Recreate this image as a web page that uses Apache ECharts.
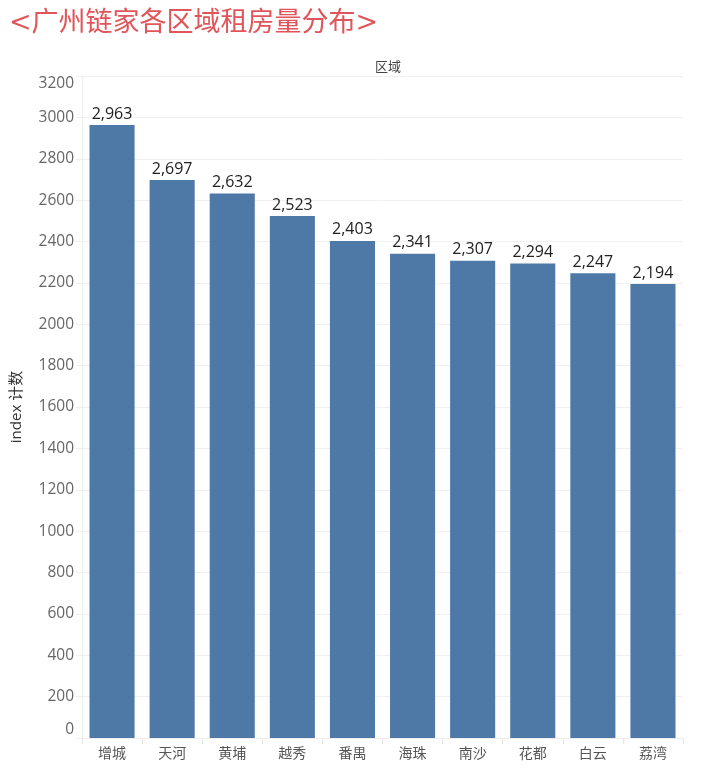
<!DOCTYPE html>
<html><head><meta charset="utf-8">
<script src="https://cdn.jsdelivr.net/npm/echarts@6/dist/echarts.min.js"></script>
<style>html,body{margin:0;padding:0;background:#fff}#c{width:717px;height:770px}</style>
</head><body><div id="c"></div>
<script>
const categories = ['增城','天河','黄埔','越秀','番禺','海珠','南沙','花都','白云','荔湾'];
const counts = [2963,2697,2632,2523,2403,2341,2307,2294,2247,2194];
const yTicks = [0,200,400,600,800,1000,1200,1400,1600,1800,2000,2200,2400,2600,2800,3000,3200];

const chart = echarts.init(document.getElementById('c'));
chart.setOption({
  animation:false,
  title:[{
    text:'<广州链家各区域租房量分布>', left:4, top:5,
    textStyle:{color:'#e0555a', fontSize:27, fontWeight:'normal', fontFamily:'DejaVu Serif, Noto Sans CJK SC'}
  },{
    text:'区域', left:383, top:55, textAlign:'center',
    textStyle:{color:'#444', fontSize:13, fontWeight:'normal', fontFamily:'Noto Sans CJK SC'}
  }],
  grid:{left:82, right:34, top:76, bottom:32, containLabel:false},
  xAxis:{
    type:'category', data:categories,
    axisLine:{show:true, lineStyle:{color:'#eeeeee'}},
    axisTick:{show:true, length:6, lineStyle:{color:'#e6e6e6'}},
    axisLabel:{color:'#555', fontSize:14, margin:8, fontFamily:'Noto Sans CJK SC'}
  },
  yAxis:{
    type:'value', min:yTicks[0], max:yTicks[yTicks.length-1], interval:200,
    name:'index 计数', nameLocation:'middle', nameRotate:90, nameGap:58,
    nameTextStyle:{color:'#333', fontSize:15, fontFamily:'Open Sans, Noto Sans CJK SC'},
    axisLine:{show:true, lineStyle:{color:'#eeeeee'}},
    axisTick:{show:true, length:6, lineStyle:{color:'#eeeeee'}},
    splitLine:{lineStyle:{color:'#f0f0f0'}},
    axisLabel:{color:'#666', fontSize:15.5, margin:8, fontFamily:'Open Sans',
      formatter:v=>String(v),
      verticalAlignMinLabel:'bottom', verticalAlignMaxLabel:'top'}
  },
  series:[{
    type:'bar', data:counts, barCategoryGap:'25%',
    itemStyle:{color:'#4e79a7'},
    label:{show:true, position:'top', distance:3, color:'#222', fontSize:16, fontFamily:'Open Sans',
      formatter:p=>p.value.toLocaleString('en-US')}
  }]
});
</script></body></html>
